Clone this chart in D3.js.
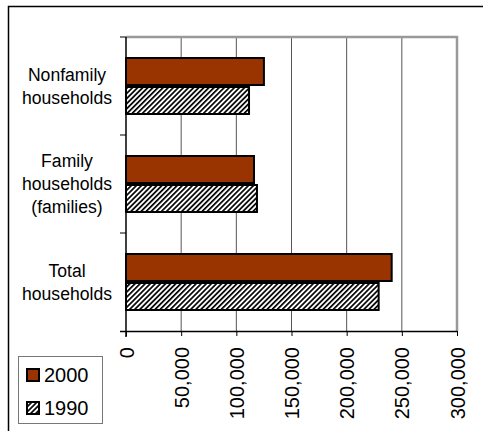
<!DOCTYPE html>
<html><head><meta charset="utf-8">
<script src="https://cdn.jsdelivr.net/npm/d3@7"></script>
<style>body{margin:0;background:#fff}svg{display:block}text{font-family:"Liberation Sans",Arial,sans-serif}</style>
</head><body>
<svg id="c" width="483" height="431"></svg>
<script>
const categories = [["Nonfamily","households"],["Family","households","(families)"],["Total","households"]];
const seriesNames = ["2000","1990"];
const values2000 = [125000, 116000, 240800];
const values1990 = [111500, 118700, 229000];
const xTicks = [0,50000,100000,150000,200000,250000,300000];

const svg = d3.select("#c");
const defs = svg.append("defs");
const P = 3.6;
const pat = defs.append("pattern").attr("id","hatch").attr("patternUnits","userSpaceOnUse")
  .attr("width",P).attr("height",P).attr("patternTransform","rotate(45)");
pat.append("rect").attr("width",P).attr("height",P).attr("fill","#fff");
pat.append("rect").attr("x",0).attr("y",0).attr("width",1.7).attr("height",P).attr("fill","#000");

// outer frame
svg.append("rect").attr("x",8.5).attr("y",6.5).attr("width",490).attr("height",440)
  .attr("fill","none").attr("stroke","#000").attr("stroke-width",1.5);

const L=126, R=457, T=37, B=331;
const x = d3.scaleLinear().domain([0,300000]).range([L,R]);
const y = d3.scaleBand().domain(d3.range(categories.length)).range([T,B]);

// grid
svg.append("g").selectAll("line").data(xTicks.slice(1,-1)).join("line")
  .attr("x1",d=>x(d)).attr("x2",d=>x(d)).attr("y1",T).attr("y2",B)
  .attr("stroke","#555").attr("stroke-width",1);
// plot border top/right
svg.append("path").attr("d",`M${L},${T}H${R}V${B}`).attr("fill","none")
  .attr("stroke","#999").attr("stroke-width",2.5);

// bars
const barH = 27, gap = 2;
const g = svg.append("g");
const series = [values2000, values1990];
series.forEach((vals,si)=>{
  g.selectAll(null).data(vals).join("rect")
   .attr("x",x(0)).attr("width",d=>x(d)-x(0))
   .attr("y",(d,i)=>y(i)+y.bandwidth()/2 - barH - gap/2 + si*(barH+gap))
   .attr("height",barH)
   .attr("fill", si===0 ? "#993300" : "url(#hatch)")
   .attr("stroke","#000").attr("stroke-width",2);
});

// x axis
const xa = svg.append("g").attr("transform",`translate(0,${B})`)
  .call(d3.axisBottom(x).tickValues(xTicks).tickSize(5).tickFormat(d3.format(",")));
xa.select(".domain").attr("d",`M${L-6},0.5H${R}`).attr("stroke","#000").attr("stroke-width",1.5);
xa.selectAll(".tick line").attr("stroke","#000");
xa.selectAll(".tick text").attr("transform","rotate(-90)").attr("text-anchor","end")
  .attr("x",-16).attr("y",0).attr("dy","0.35em").attr("font-size",20).attr("fill","#000")
  .attr("font-family","Liberation Sans, Arial, sans-serif");

// y axis
svg.append("line").attr("x1",L).attr("x2",L).attr("y1",T).attr("y2",B+6).attr("stroke","#000").attr("stroke-width",1.5);
svg.append("g").selectAll("line").data(d3.range(categories.length)).join("line")
  .attr("x1",L-6).attr("x2",L).attr("y1",i=>y(i)).attr("y2",i=>y(i)).attr("stroke","#000");

// category labels
categories.forEach((lines,i)=>{
  const cy = y(i)+y.bandwidth()/2;
  const lh = 23;
  const t = svg.append("text").attr("text-anchor","middle").attr("font-size",17.6).attr("fill","#000");
  lines.forEach((ln,k)=>{
    t.append("tspan").attr("x",67).attr("y",cy + (k-(lines.length-1)/2)*lh).attr("dy","0.35em").text(ln);
  });
});

// legend
const lg = svg.append("g");
lg.append("rect").attr("x",18.5).attr("y",356.5).attr("width",84).attr("height",67)
  .attr("fill","#fff").attr("stroke","#777").attr("stroke-width",1);
seriesNames.forEach((n,i)=>{
  const yy = 375 + i*33;
  lg.append("rect").attr("x",27).attr("y",yy-6).attr("width",12).attr("height",12)
    .attr("fill", i===0 ? "#993300" : "url(#hatch)").attr("stroke","#000").attr("stroke-width",2);
  lg.append("text").attr("x",44).attr("y",yy).attr("dy","0.35em").attr("font-size",20).text(n);
});
</script>
</body></html>
